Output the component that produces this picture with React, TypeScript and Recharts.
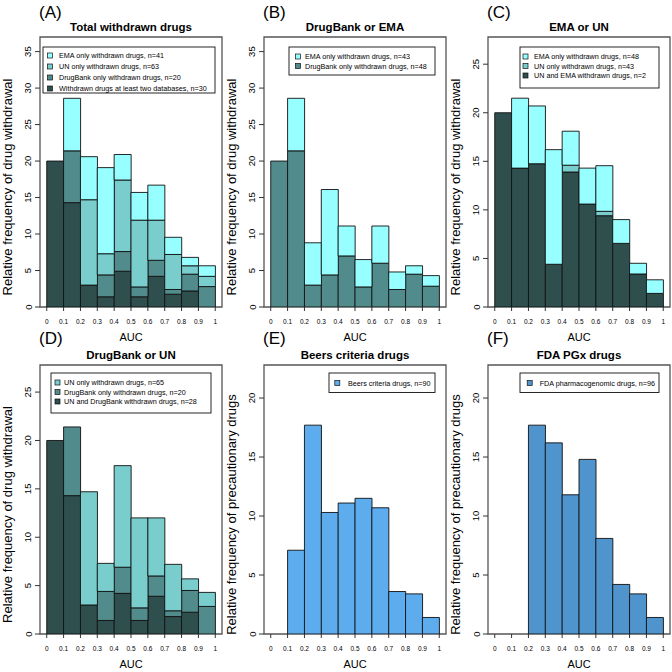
import React from 'react';
import { BarChart, Bar, XAxis, YAxis, ReferenceArea } from 'recharts';

const BINS = ['0-0.1', '0.1-0.2', '0.2-0.3', '0.3-0.4', '0.4-0.5', '0.5-0.6', '0.6-0.7', '0.7-0.8', '0.8-0.9', '0.9-1'];
const BIN_MIDS = [0.05, 0.15, 0.25, 0.35, 0.45, 0.55, 0.65, 0.75, 0.85, 0.95];
const AUC_TICKS = [0, 0.1, 0.2, 0.3, 0.4, 0.5, 0.6, 0.7, 0.8, 0.9, 1];

// top edge of each overlaid histogram (cumulative)
const A_EMA = [20, 28.6, 20.6, 19.1, 20.9, 15.7, 16.7, 9.55, 6.8, 5.65];
const A_UN = [20, 21.4, 14.7, 7.3, 17.4, 11.9, 11.9, 7.2, 5.65, 4.2];
const A_DB = [20, 21.4, 3.0, 4.4, 7.6, 2.75, 6.4, 2.4, 4.5, 2.8];
const A_TWO = [20, 14.3, 3.0, 1.4, 4.9, 1.4, 4.2, 1.75, 2.2, 0];

const B_EMA = [20, 28.6, 8.8, 16.1, 11.1, 6.5, 11.1, 4.8, 5.65, 4.3];
const B_DB = [20, 21.4, 3.0, 4.4, 7.0, 2.75, 6.0, 2.4, 4.5, 2.85];

const C_EMA = [20, 21.5, 20.7, 16.2, 18.1, 14.3, 14.55, 9.0, 4.5, 2.8];
const C_UN = [20, 14.3, 14.75, 4.4, 14.6, 10.6, 9.85, 6.55, 3.4, 1.4];
const C_BOTH = [20, 14.3, 14.75, 4.4, 13.9, 10.6, 9.4, 6.55, 3.4, 1.4];

const D_UN = [20, 21.4, 14.7, 7.3, 17.4, 12.0, 12.0, 7.2, 5.7, 4.3];
const D_DB = [20, 21.4, 3.0, 4.4, 6.9, 2.7, 6.0, 2.4, 4.5, 2.85];
const D_BOTH = [20, 14.3, 3.0, 1.4, 4.2, 1.4, 3.9, 1.8, 2.25, 0];

const E_BEERS = [0, 7.1, 17.7, 10.3, 11.1, 11.5, 10.7, 3.6, 3.4, 1.4];
const F_PGX = [0, 0, 17.7, 16.2, 11.8, 14.8, 8.1, 4.2, 3.4, 1.4];

const TICKS_35 = [0, 5, 10, 15, 20, 25, 30, 35];
const TICKS_25 = [0, 5, 10, 15, 20, 25];
const TICKS_20 = [0, 5, 10, 15, 20];

const FONT = '"Liberation Sans", Arial, Helvetica, sans-serif';
const EMA = '#97FFFF';
const UN = '#79CDCD';
const DB = '#528B8B';
const DARK = '#2F4F4F';

const YLAB_W = 'Relative frequency of drug withdrawal';
const YLAB_P = 'Relative frequency of precautionary drugs';

// series listed in legend order (top of stack first)
const PANELS = [
    {
        tag: '(A)', title: 'Total withdrawn drugs', row: 0, col: 0, yMax: 37, yTicks: TICKS_35, ylab: YLAB_W,
        series: [
            { name: 'EMA only withdrawn drugs, n=41', color: EMA, tops: A_EMA },
            { name: 'UN only withdrawn drugs, n=63', color: UN, tops: A_UN },
            { name: 'DrugBank only withdrawn drugs, n=20', color: DB, tops: A_DB },
            { name: 'Withdrawn drugs at least two databases, n=30', color: DARK, tops: A_TWO },
        ],
        legend: { x: 43, y: 47, w: 172, h: 46, mx: 50, tx: 59, rows: [55.5, 66.5, 77.5, 88.5] },
    },
    {
        tag: '(B)', title: 'DrugBank or EMA', row: 0, col: 1, yMax: 37, yTicks: TICKS_35, ylab: YLAB_W,
        series: [
            { name: 'EMA only withdrawn drugs, n=43', color: EMA, tops: B_EMA },
            { name: 'DrugBank only withdrawn drugs, n=48', color: DB, tops: B_DB },
        ],
        legend: { x: 65, y: 47, w: 146, h: 28, mx: 74, tx: 81, rows: [56.5, 66] },
    },
    {
        tag: '(C)', title: 'EMA or UN', row: 0, col: 2, yMax: 27.8, yTicks: TICKS_25, ylab: YLAB_W,
        series: [
            { name: 'EMA only withdrawn drugs, n=48', color: EMA, tops: C_EMA },
            { name: 'UN only withdrawn drugs, n=43', color: UN, tops: C_UN },
            { name: 'UN and EMA withdrawn drugs, n=2', color: DARK, tops: C_BOTH },
        ],
        legend: { x: 72, y: 47, w: 139, h: 41, mx: 77.5, tx: 86, rows: [56.5, 66, 75.5] },
    },
    {
        tag: '(D)', title: 'DrugBank or UN', row: 1, col: 0, yMax: 27.8, yTicks: TICKS_25, ylab: YLAB_W,
        series: [
            { name: 'UN only withdrawn drugs, n=65', color: UN, tops: D_UN },
            { name: 'DrugBank only withdrawn drugs, n=20', color: DB, tops: D_DB },
            { name: 'UN and DrugBank withdrawn drugs, n=28', color: DARK, tops: D_BOTH },
        ],
        legend: { x: 51, y: 47, w: 160, h: 40, mx: 57.5, tx: 64, rows: [56.5, 66, 75.5] },
    },
    {
        tag: '(E)', title: 'Beers criteria drugs', row: 1, col: 1, yMax: 22.8, yTicks: TICKS_20, ylab: YLAB_P,
        series: [{ name: 'Beers criteria drugs, n=90', color: '#5CACEE', tops: E_BEERS }],
        legend: { x: 105, y: 47, w: 106, h: 19.5, mx: 113.3, tx: 124, rows: [57] },
    },
    {
        tag: '(F)', title: 'FDA PGx drugs', row: 1, col: 2, yMax: 22.8, yTicks: TICKS_20, ylab: YLAB_P,
        series: [{ name: 'FDA pharmacogenomic drugs, n=96', color: '#4F94CD', tops: F_PGX }],
        legend: { x: 72, y: 47, w: 139, h: 19.5, mx: 81.7, tx: 91.7, rows: [57] },
    },
];

// turn overlaid (cumulative) heights into stacked segments
function buildRows(series: any[]) {
    const stack = [...series].reverse();
    return BINS.map((bin, i) => {
        const row: any = { bin, mid: BIN_MIDS[i] };
        let below = 0;
        stack.forEach((s, k) => {
            row['s' + k] = Math.max(0, +(s.tops[i] - below).toFixed(2));
            below = Math.max(below, s.tops[i]);
        });
        return row;
    });
}

const YTick = ({ x, y, payload }: any) => (
    <text x={x} y={y} transform={`rotate(-90 ${x} ${y})`} textAnchor="middle" dominantBaseline="central" fontSize={9.5} fill="#000">
        {payload.value}
    </text>
);

function Panel({ p }: any) {
    const data = buildRows(p.series);
    const stack = [...p.series].reverse();
    const top = p.row ? 39 : 37;
    const height = p.row ? 346 : 345;
    const plotMid = top + (height - 38 - top) / 2;
    const lg = p.legend;
    return (
        <div style={{ position: 'absolute', left: p.col * 224, top: p.row ? 326 : 0 }}>
            <BarChart width={224} height={height} data={data} margin={{ top, right: 2, bottom: 0, left: 0 }} barCategoryGap={0} barGap={0}>
                <XAxis xAxisId="bins" dataKey="bin" hide padding={{ left: 6.74, right: 6.74 }} />
                <XAxis
                    xAxisId="auc" dataKey="mid" type="number" domain={[-0.04, 1.04]} ticks={AUC_TICKS} allowDataOverflow interval={0}
                    axisLine={false} tickSize={4} tickMargin={8.5} height={38}
                    tick={{ fontSize: 6.5, fill: '#000' }} tickLine={{ stroke: '#333' }}
                    label={{ value: 'AUC', position: 'insideBottom', offset: 4, fontSize: 11, fill: '#000' }}
                />
                <YAxis
                    domain={[0, p.yMax]} ticks={p.yTicks} allowDataOverflow interval={0} width={40}
                    axisLine={false} tickSize={5} tickMargin={7} tick={<YTick />} tickLine={{ stroke: '#333' }}
                />
                {stack.map((s: any, k: number) => (
                    <Bar key={k} xAxisId="bins" dataKey={'s' + k} stackId="h" fill={s.color} stroke="#111" strokeWidth={0.9} isAnimationActive={false} />
                ))}
                <ReferenceArea xAxisId="auc" x1={-0.04} x2={1.04} y1={0} y2={p.yMax} fill="none" fillOpacity={0} stroke="#555" strokeWidth={1.3} ifOverflow="visible" />
                <text x={39} y={12} dominantBaseline="central" fontSize={17} fill="#000">{p.tag}</text>
                <text x={131} y={top - 10} textAnchor="middle" dominantBaseline="central" fontSize={11.5} fontWeight="bold" fill="#000">{p.title}</text>
                <text x={7} y={plotMid + 15} transform={`rotate(-90 7 ${plotMid + 15})`} textAnchor="middle" dominantBaseline="central" fontSize={13} fill="#000">{p.ylab}</text>
                <g>
                    <rect x={lg.x} y={lg.y} width={lg.w} height={lg.h} fill="#fff" stroke="#111" strokeWidth={0.9} />
                    {p.series.map((s: any, i: number) => (
                        <g key={i}>
                            <rect x={lg.mx - 2.5} y={lg.rows[i] - 2.5} width={5} height={5} fill={s.color} stroke="#111" strokeWidth={0.7} />
                            <text x={lg.tx} y={lg.rows[i]} dominantBaseline="central" fontSize={7.2} fill="#000">{s.name}</text>
                        </g>
                    ))}
                </g>
            </BarChart>
        </div>
    );
}

export default function App() {
    return (
        <div style={{ position: 'absolute', left: 0, top: 0, width: 672, height: 672, background: '#fff', fontFamily: FONT }}>
            {PANELS.map((p) => <Panel key={p.tag} p={p} />)}
        </div>
    );
}
